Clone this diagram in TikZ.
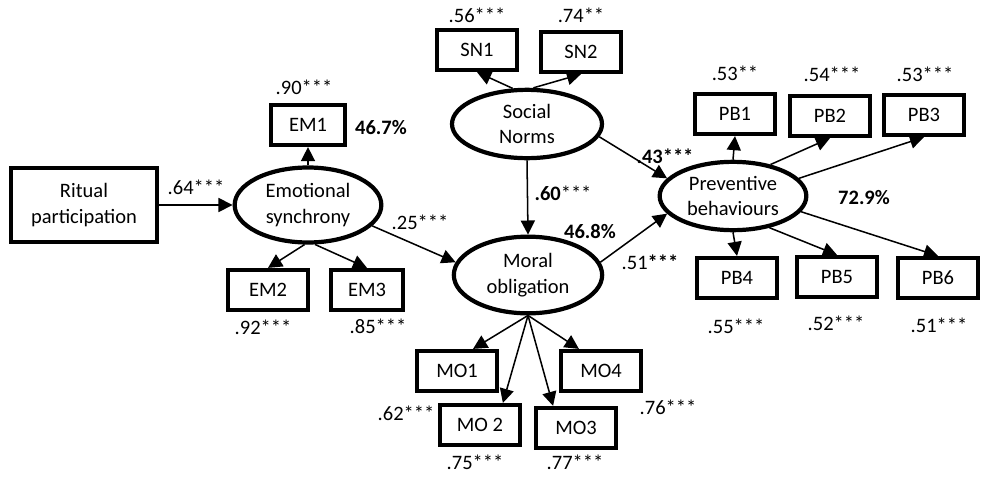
\documentclass[tikz,border=0pt]{standalone}
\usepackage{fontspec}
\setmainfont{Carlito}
\usetikzlibrary{shapes,arrows.meta}

\begin{document}
\begin{tikzpicture}[x=0.03cm,y=-0.03cm,font=\fontsize{17.5}{22}\selectfont]
    \tikzset{
        item/.style={draw, line width=3.6pt, minimum width=2.4cm, minimum height=1.2cm, inner sep=0pt},
        latent/.style={draw, ellipse, line width=3.6pt, minimum width=4.4cm, minimum height=2.15cm, align=center, inner sep=0pt},
        line/.style={draw, line width=1.3pt, -{Triangle[length=12pt,width=12pt]}},
        coef/.style={inner sep=1pt},
        rsq/.style={inner sep=1pt, font=\fontsize{17.5}{22}\selectfont\bfseries},
    };
    \useasboundingbox (0,0) rectangle (981,477);

    \node [item, minimum width=4.4cm, minimum height=2.2cm, align=center] (RP) at (84,205) {Ritual\\participation};
    \node [latent, minimum height=2.25cm] (ES) at (308,205) {Emotional\\synchrony};
    \node [latent, minimum width=4.5cm, minimum height=2.05cm] (SN) at (527,124) {Social\\Norms};
    \node [latent, minimum width=4.45cm, minimum height=2.3cm] (MO) at (528,275) {Moral\\obligation};
    \node [latent, minimum height=2.05cm] (PB) at (733,196) {Preventive\\behaviours};

    \node [item, minimum width=2.2cm] (EM1) at (308,125) {EM1};
    \node [item] (EM2) at (268,290) {EM2};
    \node [item, minimum width=2.15cm] (EM3) at (367,290) {EM3};

    \node [item] (SN1) at (477,50) {SN1};
    \node [item] (SN2) at (581,52) {SN2};

    \node [item] (MO1) at (457,371) {MO1};
    \node [item] (MO2) at (480,425) {MO 2};
    \node [item] (MO3) at (576,428) {MO3};
    \node [item] (MO4) at (601,371) {MO4};

    \node [item] (PB1) at (735,114) {PB1};
    \node [item] (PB2) at (830,116) {PB2};
    \node [item] (PB3) at (924,115) {PB3};
    \node [item] (PB4) at (737,278) {PB4};
    \node [item] (PB5) at (837,277) {PB5};
    \node [item] (PB6) at (938,278) {PB6};

    % paths between constructs
    \path [line] (RP.east) -- (ES.west);
    \path [line] (ES.-18) -- (MO.170);
    \path [line] (SN.south) -- (MO.north);
    \path [line] (SN.-10) -- (PB.165);
    \path [line] (MO.10) -- (PB.195);

    % indicators
    \path [line] (ES.north) -- (EM1.south);
    \path [line] (ES.-95) -- (EM2.north);
    \path [line] (ES.-80) -- (EM3.north);
    \path [line] (SN.112) -- (SN1.south);
    \path [line] (SN.80) -- (SN2.south);
    \path [line] (MO.south) -- (MO1.54);
    \path [line] (MO.south) -- (MO2.44);
    \path [line] (MO.south) -- (MO3.136);
    \path [line] (MO.south) -- (MO4.135);
    \path [line] (PB.north) -- (PB1.south);
    \path [line] (PB.40) -- (PB2.south);
    \path [line] (PB.15) -- (PB3.south);
    \path [line] (PB.south) -- (PB4.north);
    \path [line] (PB.-41) -- (PB5.north);
    \path [line] (PB.-13) -- (PB6.north);

    % coefficients
    \node [coef] (c64) at (196,187) {.64***};
    \node [coef] (c25) at (420,222) {.25***};
    \node [coef] (c60) at (563,193) {\textbf{.60}***};
    \node [coef] (c43) at (665,156) {\textbf{.43***}};
    \node [coef] (c51) at (650,262) {.51\textbf{***}};
    \node [coef] (c90) at (304,87) {.90***};
    \node [coef] (c92) at (263,327) {.92***};
    \node [coef] (c85) at (378,326) {.85***};
    \node [coef] (c56) at (477,15) {.56***};
    \node [coef] (c74) at (581,15) {.74**};
    \node [coef] (c62) at (406,413) {.62***};
    \node [coef] (c75) at (475,462) {.75***};
    \node [coef] (c77) at (575,462) {.77***};
    \node [coef] (c76) at (668,407) {.76***};
    \node [coef] (c53a) at (735,73) {.53**};
    \node [coef] (c54) at (832,74) {.54***};
    \node [coef] (c53b) at (925,74) {.53***};
    \node [coef] (c55) at (736,326) {.55***};
    \node [coef] (c52) at (836,323) {.52***};
    \node [coef] (c51b) at (939,325) {.51***};

    % explained variance
    \node [rsq] (r47) at (381,128) {46.7\%};
    \node [rsq] (r48) at (590,232) {46.8\%};
    \node [rsq] (r73) at (864,198) {72.9\%};
\end{tikzpicture}
\end{document}
